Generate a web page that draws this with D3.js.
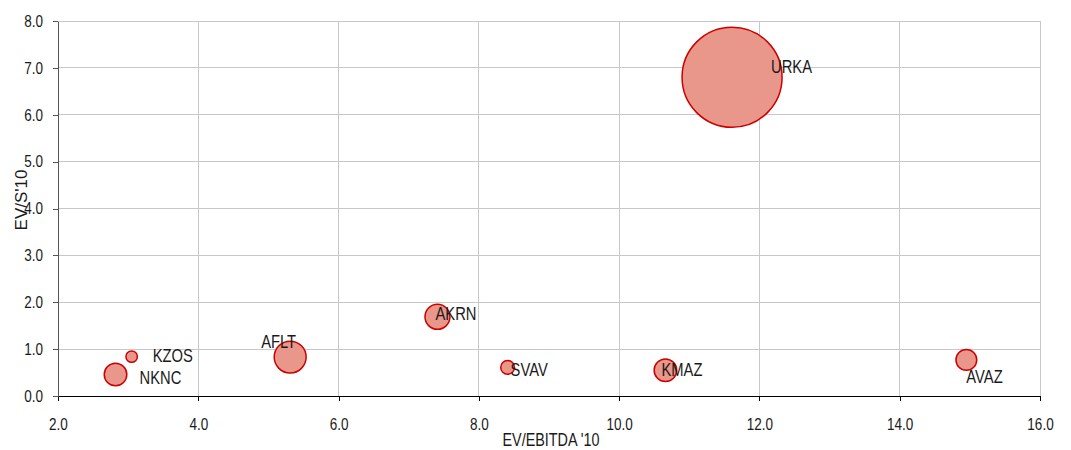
<!DOCTYPE html>
<html><head><meta charset="utf-8">
<script src="https://cdn.jsdelivr.net/npm/d3@7"></script>
<style>
html,body{margin:0;padding:0;background:#fff;}
text{font-family:"Liberation Sans Narrow","Arial Narrow","Liberation Sans",Arial,sans-serif;fill:#1a1a1a;}
</style></head>
<body>
<svg id="chart" width="1071" height="450"></svg>
<script>
const tickers = ["NKNC","KZOS","AFLT","AKRN","SVAV","KMAZ","AVAZ","URKA"];
const evEbitda = [2.82, 3.05, 5.31, 7.41, 8.41, 10.66, 14.95, 11.61];
const evSales  = [0.46, 0.84, 0.83, 1.69, 0.61, 0.55, 0.77, 6.80];
const bubbleSize = [5.1, 1.3, 10.2, 6.25, 1.9, 5.1, 4.3, 100];
const labelDx = [24, 21, -29, -2, 3, -4, 0, 39];
const labelDy = [3, -1, -15, -3, 2, -1, 17, -11];
const xTicks = [2,4,6,8,10,12,14,16];
const yTicks = [0,1,2,3,4,5,6,7,8];

const SX = 0.82; // narrow font emulation
const svg = d3.select("#chart");
const L=58, R=1040, T=21, B=396;
const x = d3.scaleLinear().domain([2,16]).range([L,R]);
const y = d3.scaleLinear().domain([0,8]).range([B,T]);
const r = d3.scaleSqrt().domain([0,100]).range([0,50]);

// gridlines
svg.append("g").selectAll("line").data(xTicks.slice(1)).join("line")
  .attr("x1",d=>x(d)).attr("x2",d=>x(d)).attr("y1",T).attr("y2",B)
  .attr("stroke","#c8c8c8").attr("stroke-width",1).attr("shape-rendering","crispEdges");
svg.append("g").selectAll("line").data(yTicks.slice(1)).join("line")
  .attr("x1",L).attr("x2",R).attr("y1",d=>y(d)).attr("y2",d=>y(d))
  .attr("stroke","#c8c8c8").attr("stroke-width",1).attr("shape-rendering","crispEdges");

// axes
const xAxis = d3.axisBottom(x).tickValues(xTicks).tickFormat(d3.format(".1f")).tickSizeInner(5).tickSizeOuter(0).tickPadding(17);
const gx = svg.append("g").attr("transform",`translate(0,${B})`).call(xAxis);
gx.attr("font-family",null);
gx.select(".domain").attr("stroke","#000").attr("shape-rendering","crispEdges");
gx.selectAll(".tick line").attr("stroke","#000").attr("shape-rendering","crispEdges");
gx.selectAll("text").attr("font-size",16.5).attr("fill","#1a1a1a").attr("transform",`scale(${SX},1)`);

const yAxis = d3.axisLeft(y).tickValues(yTicks).tickFormat(d3.format(".1f")).tickSizeInner(5).tickSizeOuter(0).tickPadding(10);
const gy = svg.append("g").attr("transform",`translate(${L},0)`).call(yAxis);
gy.attr("font-family",null);
gy.select(".domain").attr("stroke","#555").attr("shape-rendering","crispEdges");
gy.selectAll(".tick line").attr("stroke","#555").attr("shape-rendering","crispEdges");
gy.selectAll("text").attr("font-size",16.5).attr("fill","#1a1a1a")
  .attr("x",-15/SX).attr("transform",`scale(${SX},1)`);

// axis titles
svg.append("text").attr("transform",`translate(${(L+R)/2+2},440) scale(0.8,1)`).attr("dy","0.35em")
  .attr("text-anchor","middle").attr("font-size",18).text("EV/EBITDA '10");
svg.append("text").attr("transform","translate(21,200) rotate(-90)").attr("dy","0.35em")
  .attr("text-anchor","middle").attr("font-size",17).text("EV/S'10");

// bubbles
const data = tickers.map((t,i)=>({t, x:evEbitda[i], y:evSales[i], s:bubbleSize[i], dx:labelDx[i], dy:labelDy[i]}));
svg.append("g").selectAll("circle").data(data).join("circle")
  .attr("cx",d=>x(d.x)).attr("cy",d=>y(d.y)).attr("r",d=>r(d.s))
  .attr("fill","#e8978a").attr("stroke","#cc0000").attr("stroke-width",1.5);
svg.append("g").selectAll("text").data(data).join("text")
  .attr("transform",d=>`translate(${x(d.x)+d.dx},${y(d.y)+d.dy}) scale(${SX},1)`).attr("dy","0.35em")
  .attr("font-size",18).text(d=>d.t);
</script>
</body></html>
